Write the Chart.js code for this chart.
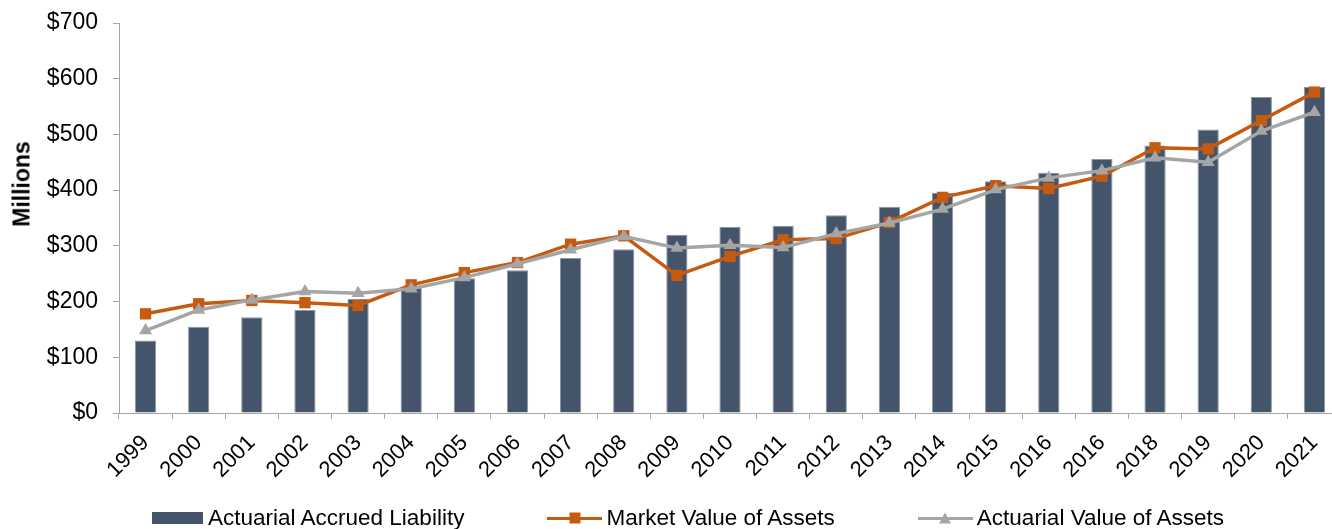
<!DOCTYPE html>
<html lang="en">
<head>
  <meta charset="UTF-8">
  <title>Actuarial Accrued Liability vs Assets</title>
  <script src="https://cdn.jsdelivr.net/npm/chart.js"></script>
  <style>
    body {
      margin: 0;
      background: #fff;
      overflow: hidden;
      font-family: "Liberation Sans", Arial, sans-serif;
    }
    #wrap {
      position: relative;
      width: 1349px;
      height: 529px;
    }
    #yTitle {
      position: absolute;
      left: 22px;
      top: 184px;
      transform: translate(-50%, -50%) rotate(-90deg);
      font-weight: bold;
      font-size: 23px;
      white-space: nowrap;
    }
    #legend {
      position: absolute;
      left: 152px;
      top: 505px;
      display: flex;
      align-items: center;
      font-size: 22.5px;
      line-height: 26px;
      color: #000;
      white-space: nowrap;
    }
    .item { display: flex; align-items: center; margin-right: 83px; }
    .box { width: 51px; height: 12px; background: #44546A; margin-right: 5px; }
    .line { position: relative; width: 55px; height: 3px; margin-right: 4px; }
    .line span { position: absolute; left: 50%; top: 50%; transform: translate(-50%, -50%); }
    .sq { width: 11px; height: 11px; background: #C55A11; }
    .tri { width: 0; height: 0; border-left: 6px solid transparent; border-right: 6px solid transparent; border-bottom: 11px solid #A5A5A5; }
  </style>
</head>
<body>
<div id="wrap">
  <canvas id="chart" width="1349" height="529"></canvas>
  <div id="yTitle">Millions</div>
  <div id="legend">
    <div class="item"><div class="box"></div>Actuarial Accrued Liability</div>
    <div class="item"><div class="line" style="background:#C55A11"><span class="sq"></span></div>Market Value of Assets</div>
    <div class="item"><div class="line" style="background:#A5A5A5"><span class="tri"></span></div>Actuarial Value of Assets</div>
  </div>
</div>

<script>
  // years as printed on the original (2016 appears twice)
  const years = ['1999', '2000', '2001', '2002', '2003', '2004', '2005', '2006', '2007', '2008',
    '2009', '2010', '2011', '2012', '2013', '2014', '2015', '2016', '2016', '2018', '2019', '2020', '2021'];

  // $ millions
  const accruedLiability = [130, 155, 172, 185, 205, 225, 242, 256, 278, 294,
    320, 334, 336, 355, 370, 395, 416, 431, 456, 480, 509, 567, 585];
  const marketValue = [178, 196, 202, 198, 193, 230, 252, 270, 303, 318,
    247, 281, 311, 313, 342, 387, 408, 403, 425, 476, 474, 525, 576];
  const actuarialValue = [148, 185, 203, 218, 215, 223, 243, 268, 293, 317,
    296, 301, 297, 322, 341, 366, 401, 422, 435, 458, 450, 506, 540];

  const yTicks = [0, 100, 200, 300, 400, 500, 600, 700];

  const axisGray = '#A6A6A6';

  Chart.defaults.font.family = '"Liberation Sans", Arial, sans-serif';
  Chart.defaults.color = '#000';

  const ctx = document.getElementById('chart').getContext('2d');
  new Chart(ctx, {
    type: 'bar',
    data: {
      labels: years,
      datasets: [
        {
          label: 'Actuarial Accrued Liability',
          data: accruedLiability,
          backgroundColor: '#44546A',
          borderColor: '#8C96A3',
          borderWidth: 1,
          categoryPercentage: 1,
          barPercentage: 0.4,
          order: 2
        },
        {
          type: 'line',
          label: 'Market Value of Assets',
          data: marketValue,
          borderColor: '#C55A11',
          backgroundColor: '#C55A11',
          borderWidth: 3.5,
          pointStyle: 'rect',
          pointRadius: 8,
          pointBorderWidth: 0,
          tension: 0,
          order: 1
        },
        {
          type: 'line',
          label: 'Actuarial Value of Assets',
          data: actuarialValue,
          borderColor: '#A5A5A5',
          backgroundColor: '#A5A5A5',
          borderWidth: 3.5,
          pointStyle: 'triangle',
          pointRadius: 7.5,
          pointBorderWidth: 0,
          tension: 0,
          order: 0
        }
      ]
    },
    options: {
      responsive: false,
      animation: false,
      layout: { padding: { top: 23, left: 0, right: 0, bottom: 0 } },
      plugins: {
        legend: { display: false },
        tooltip: { enabled: false }
      },
      scales: {
        x: {
          offset: true,
          grid: {
            offset: true,
            drawOnChartArea: false,
            drawTicks: true,
            tickLength: 6,
            color: axisGray
          },
          border: { color: axisGray, width: 1 },
          ticks: {
            font: { size: 22 },
            maxRotation: 45,
            minRotation: 45,
            padding: 11,
            autoSkip: false
          },
          afterFit(scale) { scale.height = 116; }
        },
        y: {
          min: 0,
          max: 700,
          afterBuildTicks(scale) { scale.ticks = yTicks.map(v => ({ value: v })); },
          grid: {
            drawOnChartArea: false,
            drawTicks: true,
            tickLength: 6,
            color: axisGray
          },
          border: { color: axisGray, width: 1 },
          ticks: {
            font: { size: 23 },
            padding: 15,
            callback: v => '$' + v
          },
          afterFit(scale) {
            scale.width = 119;
            // tick padding shouldn't push the plot top down
            scale.paddingTop = 0;
            scale.paddingBottom = 0;
          }
        }
      }
    }
  });
</script>
</body>
</html>
